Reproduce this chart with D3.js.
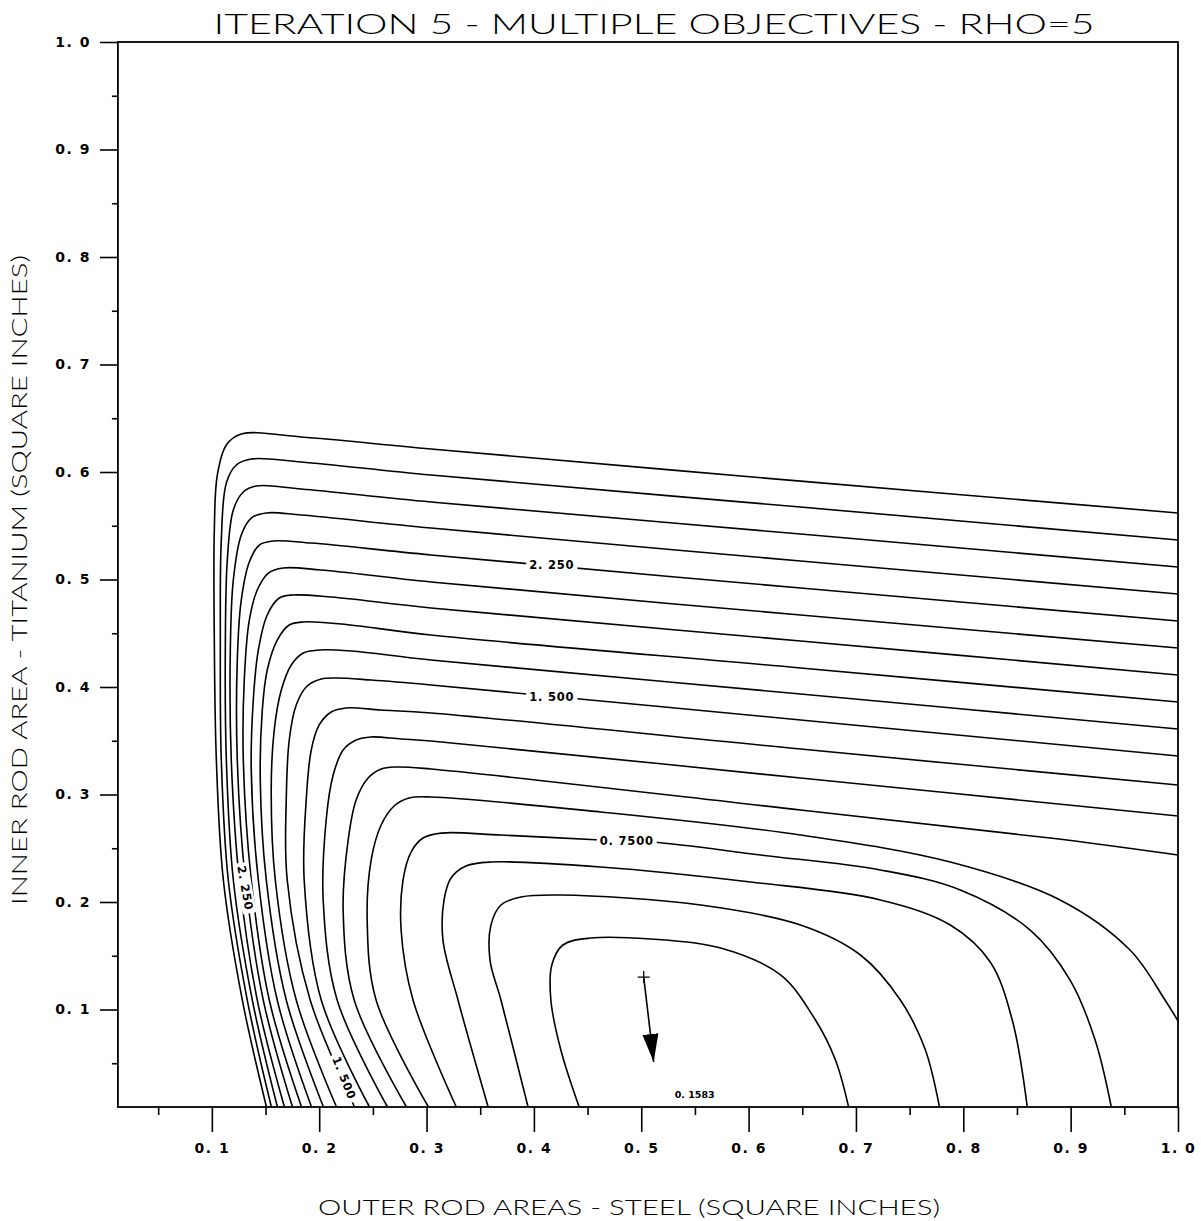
<!DOCTYPE html>
<html>
<head>
<meta charset="utf-8">
<script src="https://cdn.jsdelivr.net/npm/d3@7"></script>
<style>
  body { margin: 0; background: #fff; }
  svg text { fill: #000; }
</style>
</head>
<body>
<script>
// contour levels, highest (outermost) first, step 0.15
var levels = [2.85, 2.70, 2.55, 2.40, 2.25, 2.10, 1.95, 1.80, 1.65, 1.50,
              1.35, 1.20, 1.05, 0.90, 0.75, 0.60, 0.45, 0.30];

// one polyline per level, [outer rod area, inner rod area]
var contourLines = [
  [[0.1507,0.01],[0.1284,0.1088],[0.1107,0.2205],[0.1042,0.3321],[0.1023,0.4437],[0.1023,0.546],[0.1051,0.5972],[0.1135,0.6251],[0.1274,0.6353],[0.1833,0.6326],[0.3042,0.6214],[0.6484,0.5915],[1.0,0.5619]],
  [[0.1553,0.01],[0.133,0.1088],[0.1153,0.2205],[0.1088,0.3321],[0.1079,0.4437],[0.1088,0.5367],[0.1135,0.5898],[0.1228,0.6065],[0.1367,0.6121],[0.1833,0.6093],[0.3042,0.5972],[0.6484,0.5674],[1.0,0.5367]],
  [[0.1609,0.01],[0.1377,0.1088],[0.12,0.2205],[0.1135,0.3321],[0.1126,0.4437],[0.1144,0.5181],[0.12,0.5647],[0.1293,0.5814],[0.1414,0.587],[0.1833,0.5842],[0.3042,0.5721],[0.6484,0.5423],[1.0,0.5116]],
  [[0.1674,0.01],[0.1423,0.1088],[0.1256,0.2205],[0.1181,0.3321],[0.1172,0.4344],[0.12,0.4995],[0.1274,0.5414],[0.1367,0.5572],[0.1507,0.5619],[0.1833,0.56],[0.3042,0.5479],[0.6484,0.5172],[1.0,0.4865]],
  [[0.1749,0.01],[0.1479,0.1088],[0.1312,0.2205],[0.1237,0.3321],[0.1237,0.4251],[0.1274,0.4808],[0.1349,0.5163],[0.1442,0.532],[0.1572,0.5358],[0.1926,0.5339],[0.3042,0.5228],[0.6484,0.4921],[1.0,0.4614]],
  [[0.1833,0.01],[0.1535,0.1088],[0.1367,0.2205],[0.1293,0.3321],[0.1302,0.4065],[0.1349,0.4623],[0.1423,0.4902],[0.1526,0.506],[0.1665,0.5107],[0.2019,0.5088],[0.3042,0.4977],[0.6484,0.467],[1.0,0.4363]],
  [[0.1926,0.01],[0.1609,0.1088],[0.1433,0.2205],[0.1367,0.3228],[0.1386,0.3879],[0.1433,0.4344],[0.1516,0.467],[0.1628,0.4828],[0.1758,0.4856],[0.2112,0.4837],[0.3042,0.4735],[0.6484,0.4428],[1.0,0.4112]],
  [[0.2037,0.01],[0.1693,0.1088],[0.1507,0.2205],[0.1451,0.3135],[0.147,0.3786],[0.1516,0.4158],[0.1609,0.4437],[0.1721,0.4577],[0.1851,0.4605],[0.2205,0.4586],[0.3042,0.4484],[0.6484,0.4177],[1.0,0.386]],
  [[0.2158,0.01],[0.1786,0.1088],[0.1591,0.2205],[0.1553,0.3042],[0.1581,0.36],[0.1647,0.3972],[0.174,0.4205],[0.1851,0.4316],[0.2,0.4344],[0.2298,0.4335],[0.3042,0.4251],[0.6484,0.3935],[1.0,0.3609]],
  [[0.2326,0.01],[0.1916,0.1088],[0.1702,0.2205],[0.1693,0.2949],[0.1721,0.3507],[0.1786,0.3833],[0.1888,0.4009],[0.2019,0.4074],[0.2158,0.4084],[0.2484,0.4065],[0.3042,0.4019],[0.6484,0.3693],[1.0,0.3358]],
  [[0.2465,0.01],[0.2019,0.1088],[0.186,0.2205],[0.1879,0.2949],[0.1926,0.3414],[0.2,0.3647],[0.2112,0.3767],[0.2251,0.3805],[0.2577,0.3786],[0.3042,0.3758],[0.6484,0.3423],[1.0,0.3088]],
  [[0.2633,0.01],[0.2167,0.1088],[0.2037,0.2019],[0.2065,0.2763],[0.213,0.3181],[0.2223,0.3414],[0.2344,0.3507],[0.2484,0.3535],[0.2763,0.3516],[0.3042,0.3498],[0.6484,0.3153],[1.0,0.28]],
  [[0.2809,0.01],[0.2326,0.1088],[0.2223,0.1926],[0.227,0.2577],[0.2344,0.2949],[0.2456,0.3153],[0.2577,0.3237],[0.2716,0.3256],[0.3042,0.3237],[0.6484,0.2856],[0.8809,0.2595],[1.0,0.2437]],
  [[0.3014,0.01],[0.253,0.1088],[0.2447,0.1833],[0.2484,0.239],[0.2577,0.2716],[0.2698,0.2893],[0.2837,0.2967],[0.3042,0.2977],[0.4623,0.2837],[0.6484,0.2623],[0.7879,0.2372],[0.8902,0.2019],[0.9553,0.1553],[0.9879,0.1088],[1.0,0.0893]],
  [[0.3274,0.01],[0.2874,0.1088],[0.2763,0.1739],[0.2781,0.2205],[0.2856,0.2465],[0.2967,0.2595],[0.3135,0.2641],[0.3693,0.2623],[0.4623,0.2577],[0.5107,0.2558],[0.6112,0.2437],[0.7228,0.2298],[0.7972,0.2112],[0.8623,0.1739],[0.8995,0.1274],[0.9228,0.0716],[0.9377,0.01]],
  [[0.3572,0.01],[0.3293,0.1088],[0.3153,0.1646],[0.3163,0.2019],[0.3228,0.2223],[0.3367,0.2335],[0.36,0.2372],[0.4623,0.2326],[0.6019,0.2186],[0.7228,0.2019],[0.7879,0.1786],[0.8251,0.1442],[0.8456,0.0902],[0.8595,0.01]],
  [[0.3944,0.01],[0.3693,0.1088],[0.3591,0.146],[0.36,0.1786],[0.3693,0.1972],[0.3879,0.2047],[0.4251,0.2065],[0.5553,0.1972],[0.6484,0.1786],[0.7042,0.1507],[0.7414,0.1088],[0.7647,0.0623],[0.7777,0.01]],
  [[0.4419,0.01],[0.4251,0.0623],[0.4158,0.1088],[0.4167,0.1414],[0.427,0.16],[0.453,0.1665],[0.5088,0.1656],[0.574,0.1572],[0.6298,0.1321],[0.6623,0.0902],[0.6809,0.053],[0.693,0.01]]
];

// contour labels (text, x, y, rotation)
var contourLabels = [
  {text: "2. 250",  x: 0.4167, y: 0.5135, angle: 0},
  {text: "1. 500",  x: 0.4167, y: 0.3907, angle: 0},
  {text: "0. 7500", x: 0.4865, y: 0.2567, angle: 0},
  {text: "2. 250",  x: 0.1312, y: 0.213,  angle: 80},
  {text: "1. 500",  x: 0.2233, y: 0.0363, angle: 68}
];

// current design point and search direction
var designPoint = [0.5023, 0.1302];
var stepEnd = [0.5116, 0.0512];
var minLabel = {text: "0. 1583", x: 0.5498, y: 0.0205};

var xMajor = [0.1, 0.2, 0.3, 0.4, 0.5, 0.6, 0.7, 0.8, 0.9, 1.0];
var xMinor = [0.05, 0.15, 0.25, 0.35, 0.45, 0.55, 0.65, 0.75, 0.85, 0.95];
var yMajor = [0.1, 0.2, 0.3, 0.4, 0.5, 0.6, 0.7, 0.8, 0.9, 1.0];
var yMinor = [0.05, 0.15, 0.25, 0.35, 0.45, 0.55, 0.65, 0.75, 0.85, 0.95];
var tickLabels = ["0. 1", "0. 2", "0. 3", "0. 4", "0. 5", "0. 6", "0. 7", "0. 8", "0. 9", "1. 0"];

var title = "ITERATION 5 - MULTIPLE OBJECTIVES - RHO=5";
var xTitle = "OUTER ROD AREAS - STEEL  (SQUARE INCHES)";
var yTitle = "INNER ROD AREA - TITANIUM  (SQUARE INCHES)";

var width = 1201, height = 1221;
var xStart = 0.0125, yStart = 0.0093;

var x = d3.scaleLinear().domain([0, 1]).range([104.5, 1178]);
var y = d3.scaleLinear().domain([0, 1]).range([1117, 42]);

var plotFont = "Lato, Inter, 'Open Sans', 'DejaVu Sans', sans-serif";
var numFont = "'DejaVu Sans', sans-serif";

var svg = d3.select("body")
  .append("svg")
  .attr("width", width)
  .attr("height", height)
  .style("background", "#fff");

/* frame */
svg.append("rect")
  .attr("x", x(xStart))
  .attr("y", y(1))
  .attr("width", x(1) - x(xStart))
  .attr("height", y(yStart) - y(1))
  .style("fill", "none")
  .style("stroke", "#000")
  .style("stroke-width", "1.8px");

/* axes */
var xAxis = g => g
  .attr("transform", `translate(0,${y(yStart)})`)
  .call(d3.axisBottom(x)
    .tickValues(xMajor)
    .tickSize(25)
    .tickPadding(11)
    .tickFormat(d => tickLabels[xMajor.indexOf(d)]))
  .call(g => g.select(".domain").remove());

var xAxisMinor = g => g
  .attr("transform", `translate(0,${y(yStart)})`)
  .call(d3.axisBottom(x)
    .tickValues(xMinor)
    .tickSize(8)
    .tickFormat(""))
  .call(g => g.select(".domain").remove());

var yAxis = g => g
  .attr("transform", `translate(${x(xStart)},0)`)
  .call(d3.axisLeft(y)
    .tickValues(yMajor)
    .tickSize(18)
    .tickPadding(9)
    .tickFormat(d => tickLabels[yMajor.indexOf(d)]))
  .call(g => g.select(".domain").remove());

var yAxisMinor = g => g
  .attr("transform", `translate(${x(xStart)},0)`)
  .call(d3.axisLeft(y)
    .tickValues(yMinor)
    .tickSize(6)
    .tickFormat(""))
  .call(g => g.select(".domain").remove());

[xAxis, xAxisMinor, yAxis, yAxisMinor].forEach(function(a) {
  var g = svg.append("g").call(a);
  g.selectAll("line").style("stroke", "#000").style("stroke-width", "1.6px");
  g.selectAll("text")
    .style("font-family", numFont)
    .style("font-weight", "bold")
    .style("font-size", "14px")
    .style("letter-spacing", "1.5px")
    .style("fill", "#000");
});

/* contours */
var line = d3.line()
  .x(d => x(d[0]))
  .y(d => y(d[1]))
  .curve(d3.curveCatmullRom.alpha(0.5));

svg.append("g")
  .selectAll("path")
  .data(contourLines)
  .enter()
  .append("path")
  .attr("d", line)
  .attr("class", (d, i) => "level_" + levels[i])
  .style("fill", "none")
  .style("stroke", "#000")
  .style("stroke-width", "1.6px")
  .style("stroke-linejoin", "round");

/* labels on the contours, a white box cuts the line */
var lab = svg.append("g")
  .selectAll("g")
  .data(contourLabels)
  .enter()
  .append("g")
  .attr("transform", d => `translate(${x(d.x)},${y(d.y)}) rotate(${d.angle})`);

lab.append("text")
  .attr("text-anchor", "middle")
  .attr("dy", "0.36em")
  .text(d => d.text)
  .style("font-family", numFont)
  .style("font-weight", "bold")
  .style("font-size", "11.5px")
  .style("letter-spacing", "0.8px");

lab.each(function() {
  var g = d3.select(this);
  var b = g.select("text").node().getBBox();
  g.insert("rect", "text")
    .attr("x", b.x - 3)
    .attr("y", b.y)
    .attr("width", b.width + 6)
    .attr("height", b.height)
    .style("fill", "#fff");
});

/* design point and step */
svg.append("defs")
  .append("marker")
  .attr("id", "head")
  .attr("markerUnits", "userSpaceOnUse")
  .attr("markerWidth", 30)
  .attr("markerHeight", 20)
  .attr("refX", 28)
  .attr("refY", 10)
  .attr("orient", "auto")
  .append("path")
  .attr("d", "M0,2 L28,10 L0,18 Z")
  .style("fill", "#000");

svg.append("line")
  .attr("x1", x(designPoint[0]))
  .attr("y1", y(designPoint[1]))
  .attr("x2", x(stepEnd[0]))
  .attr("y2", y(stepEnd[1]))
  .attr("marker-end", "url(#head)")
  .style("stroke", "#000")
  .style("stroke-width", "1.6px");

svg.append("path")
  .attr("d", `M${x(designPoint[0]) - 6},${y(designPoint[1])} h12 M${x(designPoint[0])},${y(designPoint[1]) - 6} v12`)
  .style("stroke", "#000")
  .style("stroke-width", "1.3px");

svg.append("text")
  .attr("x", x(minLabel.x))
  .attr("y", y(minLabel.y))
  .attr("text-anchor", "middle")
  .attr("dy", "0.35em")
  .text(minLabel.text)
  .style("font-family", numFont)
  .style("font-weight", "bold")
  .style("font-size", "9.5px");

/* titles */
svg.append("text")
  .attr("x", 654)
  .attr("y", 34)
  .attr("text-anchor", "middle")
  .attr("textLength", 881)
  .attr("lengthAdjust", "spacingAndGlyphs")
  .text(title)
  .style("font-family", plotFont)
  .style("font-weight", "300")
  .style("font-size", "28px");

svg.append("text")
  .attr("x", 629)
  .attr("y", 1215)
  .attr("text-anchor", "middle")
  .attr("textLength", 622)
  .attr("lengthAdjust", "spacingAndGlyphs")
  .text(xTitle)
  .style("font-family", plotFont)
  .style("font-weight", "300")
  .style("font-size", "21px");

svg.append("text")
  .attr("transform", "translate(27,580) rotate(-90)")
  .attr("text-anchor", "middle")
  .attr("textLength", 650)
  .attr("lengthAdjust", "spacingAndGlyphs")
  .text(yTitle)
  .style("font-family", plotFont)
  .style("font-weight", "300")
  .style("font-size", "21px");
</script>
</body>
</html>
